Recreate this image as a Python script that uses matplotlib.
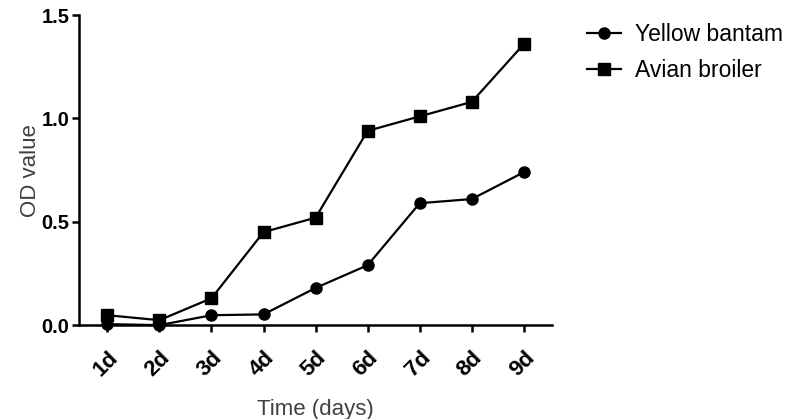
import matplotlib
matplotlib.use("Agg")
import matplotlib.pyplot as plt

# data
days = ["1d", "2d", "3d", "4d", "5d", "6d", "7d", "8d", "9d"]
yellow_bantam = [0.005, 0.0, 0.048, 0.052, 0.18, 0.29, 0.59, 0.61, 0.74]
avian_broiler = [0.048, 0.024, 0.13, 0.45, 0.52, 0.94, 1.01, 1.08, 1.36]

plt.rcParams["font.family"] = ["Liberation Sans", "DejaVu Sans"]

fig = plt.figure(figsize=(8, 4.19), dpi=100)
ax = fig.add_axes([0.099, 0.224, 0.591, 0.74])

x = list(range(1, len(days) + 1))
ax.plot(x, yellow_bantam, color="black", linewidth=1.6, marker="o",
        markersize=8, label="Yellow bantam", clip_on=False, zorder=3)
ax.plot(x, avian_broiler, color="black", linewidth=1.6, marker="s",
        markersize=8.5, label="Avian broiler", clip_on=False, zorder=3)

ax.set_xlim(0.46, 9.54)
ax.set_ylim(0, 1.5)
ax.set_xticks(x)
ax.set_xticklabels(days, rotation=45, ha="right", rotation_mode="anchor",
                   fontweight="bold", fontsize=16)
ax.set_yticks([0.0, 0.5, 1.0, 1.5])
ax.set_yticklabels(["0.0", "0.5", "1.0", "1.5"], fontweight="bold",
                   fontsize=14.5)

for s in ["top", "right"]:
    ax.spines[s].set_visible(False)
for s in ["left", "bottom"]:
    ax.spines[s].set_linewidth(1.8)
ax.tick_params(direction="out", length=5, width=1.8, pad=2)
ax.tick_params(axis="x", pad=11)

ax.set_xlabel("Time (days)", fontsize=16, color="#404040", labelpad=13)
ax.set_ylabel("OD value", fontsize=16, color="#404040", labelpad=0)

ax.legend(loc="upper left", bbox_to_anchor=(1.03, 1.04), frameon=False,
          fontsize=16.5, handlelength=1.5, handletextpad=0.6,
          labelspacing=0.55)

fig.savefig("out.png", dpi=100)
